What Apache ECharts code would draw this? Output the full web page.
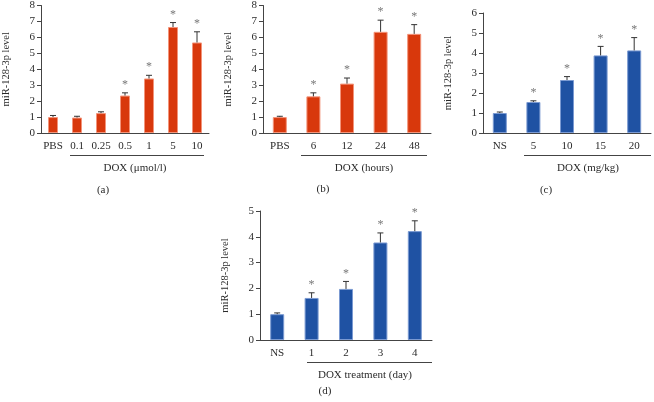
<!DOCTYPE html>
<html><head><meta charset="utf-8">
<script src="https://cdn.jsdelivr.net/npm/echarts@6/dist/echarts.min.js"></script>
<style>html,body{margin:0;padding:0;background:#fff}#c{width:654px;height:402px}</style>
</head><body><div id="c"></div>
<script>
const catsA = ['PBS','0.1','0.25','0.5','1','5','10'];
const valsA = [1.0, 0.97, 1.25, 2.35, 3.42, 6.65, 5.68];
const errA  = [0.10, 0.08, 0.08, 0.17, 0.20, 0.28, 0.67];
const starA = [false,false,false,true,true,true,true];

const catsB = ['PBS','6','12','24','48'];
const valsB = [1.0, 2.3, 3.1, 6.35, 6.22];
const errB  = [0.05, 0.22, 0.35, 0.73, 0.58];
const starB = [false,true,true,true,true];

const catsC = ['NS','5','10','15','20'];
const valsC = [1.0, 1.55, 2.65, 3.88, 4.13];
const errC  = [0.05, 0.06, 0.17, 0.45, 0.64];
const starC = [false,true,true,true,true];

const catsD = ['NS','1','2','3','4'];
const valsD = [1.0, 1.63, 1.98, 3.78, 4.22];
const errD  = [0.05, 0.20, 0.29, 0.37, 0.40];
const starD = [false,true,true,true,true];

const ticksA = [0,1,2,3,4,5,6,7,8];
const ticksC = [0,1,2,3,4,5,6];
const ticksD = [0,1,2,3,4,5];

const FONT = '"Liberation Serif","DejaVu Serif",serif';
const TXT = '#2a2a2a';
const RED = '#d8380c', RED_EDGE = '#f3947a';
const BLUE = '#1f52a3', BLUE_EDGE = '#7b9ad2';

const chart = echarts.init(document.getElementById('c'), null, {renderer:'canvas'});

const grids = [
  {left:40, top:4, width:169, height:129},
  {left:263, top:4, width:168, height:129},
  {left:483, top:13, width:168, height:120},
  {left:260, top:211, width:172, height:129}
];
const panels = [
  {cats:catsA, vals:valsA, err:errA, star:starA, ticks:ticksA, color:RED, edge:RED_EDGE, bw:10},
  {cats:catsB, vals:valsB, err:errB, star:starB, ticks:ticksA, color:RED, edge:RED_EDGE, bw:14},
  {cats:catsC, vals:valsC, err:errC, star:starC, ticks:ticksC, color:BLUE, edge:BLUE_EDGE, bw:14},
  {cats:catsD, vals:valsD, err:errD, star:starD, ticks:ticksD, color:BLUE, edge:BLUE_EDGE, bw:14}
];

const xAxis = [], yAxis = [], series = [];
panels.forEach((p, i) => {
  xAxis.push({
    type:'category', gridIndex:i, data:p.cats,
    axisLine:{lineStyle:{color:'#444', width:1}},
    axisTick:{show:false},
    axisLabel:{color:TXT, fontFamily:FONT, fontSize:11, margin:8, interval:0, hideOverlap:false}
  });
  const mx = p.ticks[p.ticks.length-1];
  yAxis.push({
    type:'value', gridIndex:i, min:p.ticks[0], max:mx, interval:1,
    name:'miR-128-3p level', nameLocation:'middle', nameGap:29,
    nameTextStyle:{color:TXT, fontFamily:FONT, fontSize:10.5},
    axisLine:{show:true, lineStyle:{color:'#444', width:1}},
    axisTick:{show:true, length:4, lineStyle:{color:'#444'}},
    axisLabel:{color:TXT, fontFamily:FONT, fontSize:11, margin:6},
    splitLine:{show:false}
  });
  series.push({
    type:'bar', xAxisIndex:i, yAxisIndex:i, data:p.vals, barWidth:p.bw,
    itemStyle:{color:p.color, borderColor:p.edge, borderWidth:1},
    silent:true, animation:false
  });
  const errData = p.vals.map((v, k) => [k, v, v + p.err[k], p.star[k] ? 1 : 0]);
  series.push({
    type:'custom', xAxisIndex:i, yAxisIndex:i, data:errData, animation:false, silent:true,
    clip:false, z:5,
    renderItem:(params, api) => {
      const x = api.value(0);
      const top = api.coord([x, api.value(1)]);
      const hi = api.coord([x, api.value(2)]);
      const cap = 3;
      const children = [
        {type:'line', shape:{x1:top[0], y1:top[1], x2:hi[0], y2:hi[1]}, style:{stroke:'#333', lineWidth:1}},
        {type:'line', shape:{x1:hi[0]-cap, y1:hi[1], x2:hi[0]+cap, y2:hi[1]}, style:{stroke:'#333', lineWidth:1}}
      ];
      if (api.value(3)) {
        children.push({type:'text', style:{text:'*', x:hi[0], y:hi[1]-2, align:'center', verticalAlign:'bottom',
          fill:'#777', font:'12px ' + FONT}});
      }
      return {type:'group', children};
    }
  });
});

const txt = (text, x, y, size) => ({type:'text', x, y,
  style:{text, fill:TXT, font:(size||11) + 'px ' + FONT, align:'center', verticalAlign:'middle'}});
const line = (x1, x2, y) => ({type:'line', shape:{x1, y1:y, x2, y2:y}, style:{stroke:'#444', lineWidth:1}});

const graphic = [
  line(70, 204, 155.5), txt('DOX (μmol/l)', 135, 168), txt('(a)', 103, 190),
  line(301, 427, 155.5), txt('DOX (hours)', 364, 168), txt('(b)', 323, 189),
  line(524, 651, 155.5), txt('DOX (mg/kg)', 588, 168), txt('(c)', 546, 190),
  line(307, 432, 362.5), txt('DOX treatment (day)', 365, 375), txt('(d)', 325, 391)
];

chart.setOption({
  animation:false,
  grid:grids,
  xAxis, yAxis, series, graphic
});
</script></body></html>
